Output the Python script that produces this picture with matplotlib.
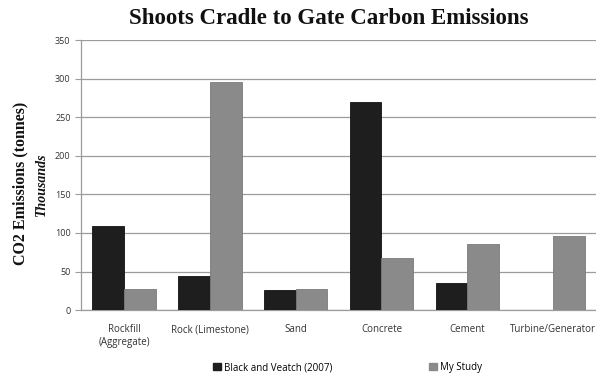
import matplotlib

matplotlib.use("Agg")

import matplotlib.pyplot as plt
import numpy as np
from matplotlib.patches import Patch

categories = ["Rockfill\n(Aggregate)", "Rock (Limestone)", "Sand", "Concrete", "Cement", "Turbine/Generator"]
black_veatch = [109, 44, 26, 270, 35, 0]
my_study = [27, 296, 28, 67, 86, 96]
series_names = ["Black and Veatch (2007)", "My Study"]
yticks = [0, 50, 100, 150, 200, 250, 300, 350]

DARK = "#1e1e1e"
GRAY = "#8a8a8a"
GRID = "#9c9c9c"
TEXT = "#333333"

fig = plt.figure(figsize=(5.96, 3.75), dpi=100, facecolor="white")
ax = fig.add_axes([0.136, 0.173, 0.864, 0.72])

x = np.arange(len(categories))
w = 0.37
ax.bar(x - w / 2, black_veatch, width=w, color=DARK, edgecolor="#111111", linewidth=0.6, zorder=3)
ax.bar(x + w / 2, my_study, width=w, color=GRAY, edgecolor="#7a7a7a", linewidth=0.6, zorder=3)

ax.set_xlim(-0.5, len(categories) - 0.5)
ax.set_ylim(0, 350)
ax.set_yticks(yticks)
ax.set_xticks(x)
ax.set_xticklabels(categories, fontsize=7, color=TEXT, family="Open Sans")
ax.tick_params(axis="x", length=0, pad=10)
ax.tick_params(axis="y", length=4, labelsize=6.5, colors=TEXT, width=0.8, direction="out")
for lab in ax.get_yticklabels():
    lab.set_family("Open Sans")
ax.tick_params(axis="y", color=GRID)
ax.yaxis.grid(True, color=GRID, linewidth=0.9, zorder=0)
for side in ["top", "right"]:
    ax.spines[side].set_visible(False)
ax.spines["left"].set_color(GRID)
ax.spines["bottom"].set_color(GRID)
ax.spines["left"].set_linewidth(0.9)
ax.spines["bottom"].set_linewidth(0.9)

fig.text(0.552, 0.95, "Shoots Cradle to Gate Carbon Emissions", ha="center", va="center",
         fontsize=16.5, fontweight="bold", family="Liberation Serif", color="#111111")
fig.text(0.035, 0.51, "CO2 Emissions (tonnes)", rotation=90, ha="center", va="center",
         fontsize=11.5, fontweight="bold", family="Liberation Serif", color="#111111")
fig.text(0.07, 0.51, "Thousands", rotation=90, ha="center", va="center",
         fontsize=10, fontstyle="italic", fontweight="bold", family="Liberation Serif", color="#111111")

handles = [Patch(facecolor=DARK, edgecolor=DARK), Patch(facecolor=GRAY, edgecolor=GRAY)]
fig.legend(handles, series_names, loc="center", bbox_to_anchor=(0.583, 0.02), ncol=2, frameon=False,
           fontsize=7, handlelength=0.8, handleheight=0.8, handletextpad=0.3, columnspacing=10,
           prop={"family": "Open Sans", "size": 7})

fig.savefig("out.png", dpi=100)
